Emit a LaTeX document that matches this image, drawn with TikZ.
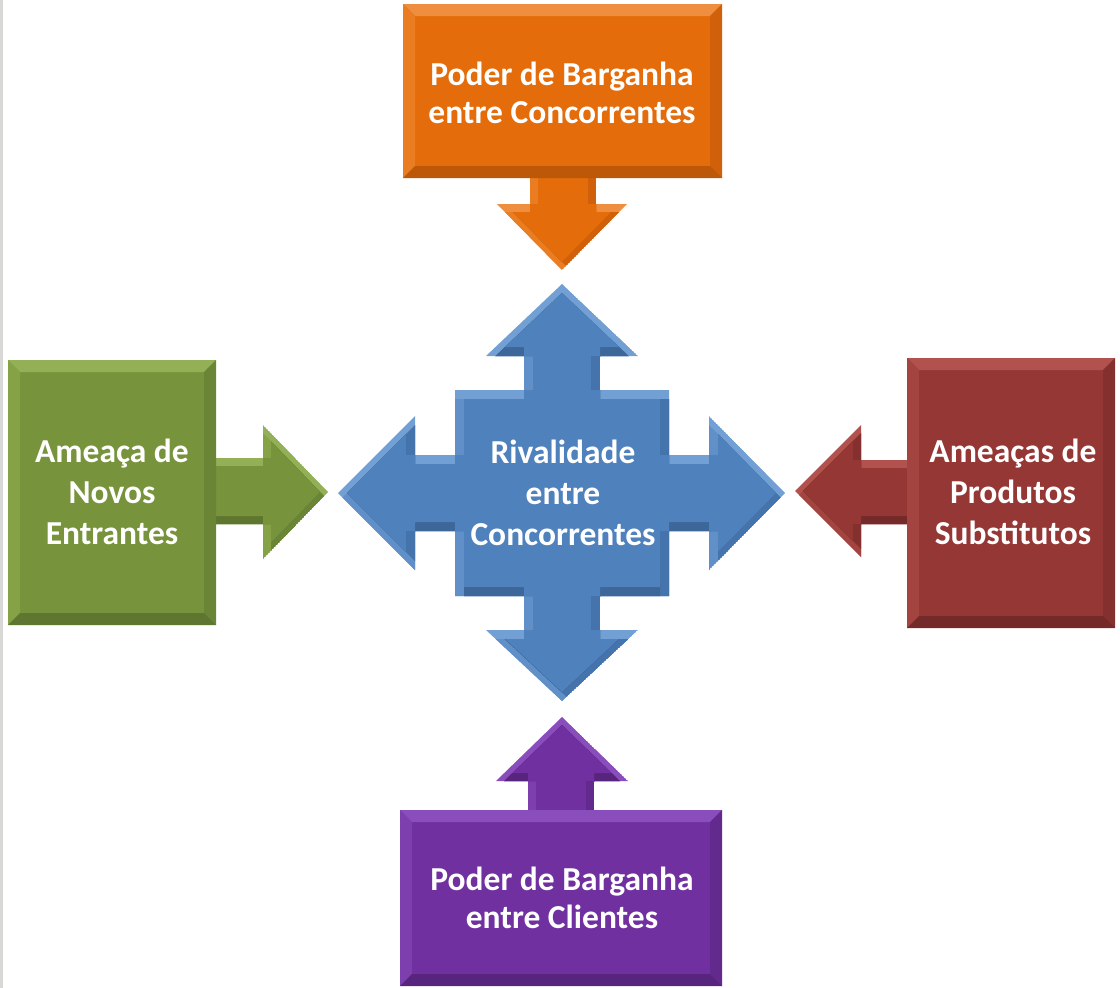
\documentclass[tikz,border=0pt]{standalone}
\usepackage{fontspec}
\newfontfamily\lab{Carlito}
\definecolor{oM}{HTML}{E46C0A}\definecolor{oT}{HTML}{F08E40}\definecolor{oL}{HTML}{EA7C22}\definecolor{oR}{HTML}{D0610A}\definecolor{oB}{HTML}{BC5808}
\definecolor{bM}{HTML}{4F81BD}\definecolor{bT}{HTML}{73A0D4}\definecolor{bL}{HTML}{6190C8}\definecolor{bR}{HTML}{4573AC}\definecolor{bB}{HTML}{3D6699}
\definecolor{gM}{HTML}{77933C}\definecolor{gT}{HTML}{93B057}\definecolor{gL}{HTML}{85A247}\definecolor{gR}{HTML}{6A8535}\definecolor{gB}{HTML}{5E762F}
\definecolor{rM}{HTML}{953735}\definecolor{rT}{HTML}{B2524F}\definecolor{rL}{HTML}{A44441}\definecolor{rR}{HTML}{84302E}\definecolor{rB}{HTML}{742A28}
\definecolor{pM}{HTML}{7030A0}\definecolor{pT}{HTML}{8A4DBC}\definecolor{pL}{HTML}{7D3FAE}\definecolor{pR}{HTML}{632A8E}\definecolor{pB}{HTML}{58257E}
\definecolor{edge}{HTML}{D8D8D6}
% bevelled polygon: #1 path, #2 colour prefix, #3 bevel width
\newcommand\bev[3]{%
\begin{scope}
\clip #1;
\fill[#2T] #1;
\begin{scope}
\clip[shift={(0,#3)}] #1;
\fill[#2L] #1;
\begin{scope}
\clip[shift={(#3,0)}] #1;
\fill[#2R] #1;
\begin{scope}
\clip[shift={(-#3,0)}] #1;
\fill[#2B] #1;
\begin{scope}
\clip[shift={(0,-#3)}] #1;
\fill[#2M] #1;
\end{scope}\end{scope}\end{scope}\end{scope}\end{scope}}
% bevelled box with mitred corners: x1 y1 x2 y2 prefix b
\newcommand\boxbev[6]{%
\fill[#5M] (#1,#2) rectangle (#3,#4);
\fill[#5T] (#1,#2) -- (#3,#2) -- ({#3-#6},{#2+#6}) -- ({#1+#6},{#2+#6}) -- cycle;
\fill[#5L] (#1,#2) -- ({#1+#6},{#2+#6}) -- ({#1+#6},{#4-#6}) -- (#1,#4) -- cycle;
\fill[#5R] (#3,#2) -- ({#3-#6},{#2+#6}) -- ({#3-#6},{#4-#6}) -- (#3,#4) -- cycle;
\fill[#5B] (#1,#4) -- ({#1+#6},{#4-#6}) -- ({#3-#6},{#4-#6}) -- (#3,#4) -- cycle;}
\tikzset{
  lbl/.style={font=\lab\bfseries\fontsize{33.5}{38}\selectfont, text=white, align=center, inner sep=0pt},
  lblthree/.style={lbl, font=\lab\bfseries\fontsize{33.5}{41}\selectfont}
}
\begin{document}
\begin{tikzpicture}[x=1pt,y=-1pt]
\useasboundingbox (0,0) rectangle (1120,988);
\fill[white] (0,0) rectangle (1120,988);
\fill[edge] (0,0) rectangle (3,988);
% arrows from the outer boxes
\bev{(530,160) -- (596,160) -- (596,204) -- (627,204) -- (562,270) -- (497,204) -- (530,204) -- cycle}{o}{8}
\bev{(200,458) -- (263,458) -- (263,425) -- (328,492) -- (263,559) -- (263,524) -- (200,524) -- cycle}{g}{8}
\bev{(925,460) -- (861,460) -- (861,425) -- (795,491) -- (861,557) -- (861,524) -- (925,524) -- cycle}{r}{8}
\bev{(562,717) -- (628,781) -- (594,781) -- (594,825) -- (528,825) -- (528,781) -- (496,781) -- cycle}{p}{8}
% outer boxes
\boxbev{403}{4}{722}{178}{o}{12}
\boxbev{8}{360}{216}{625}{g}{12}
\boxbev{907}{358}{1115}{628}{r}{12}
\boxbev{400}{810}{722}{986}{p}{12}
% central cross
\bev{(562,284) -- (638,356) -- (600,356) -- (600,390) -- (669,390) -- (669,455) -- (709,455) -- (709,416) -- (785,493) -- (709,570) -- (709,531) -- (669,531) -- (669,596) -- (600,596) -- (600,630) -- (638,630) -- (562,701) -- (486,630) -- (524,630) -- (524,596) -- (455,596) -- (455,531) -- (415,531) -- (415,570) -- (338,493) -- (415,416) -- (415,455) -- (455,455) -- (455,390) -- (524,390) -- (524,356) -- (486,356) -- cycle}{b}{9}
% labels
\node[lbl] (top) at (562,93) {Poder de Barganha\\entre Concorrentes};
\node[lblthree] (mid) at (563,493) {Rivalidade\\entre\\Concorrentes};
\node[lblthree] (left) at (112,492) {Ameaça de\\Novos\\Entrantes};
\node[lblthree] (right) at (1013,492) {Ameaças de\\Produtos\\Substitutos};
\node[lbl] (bottom) at (562,898) {Poder de Barganha\\entre Clientes};
\end{tikzpicture}
\end{document}
